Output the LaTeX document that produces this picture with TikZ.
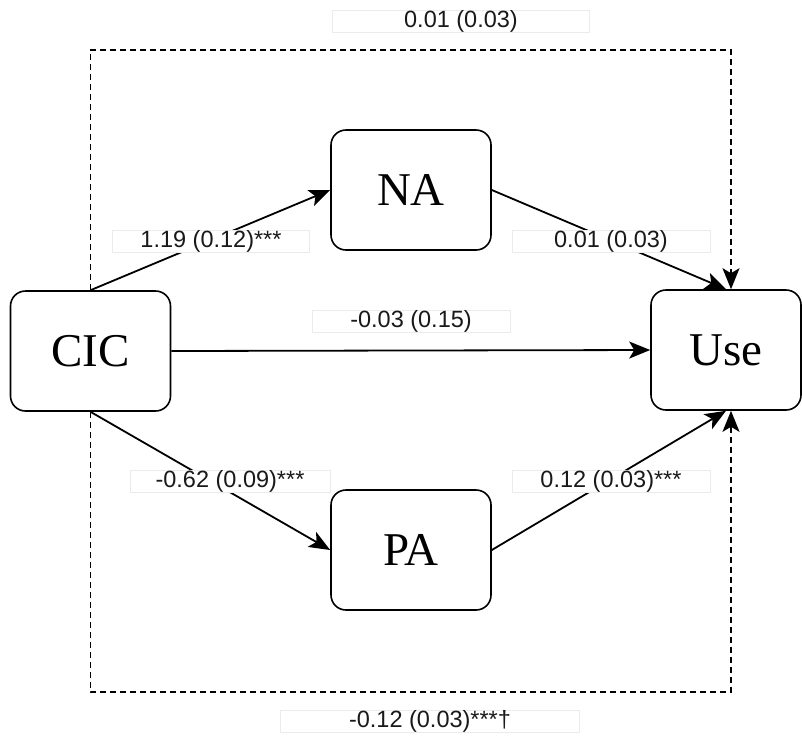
\documentclass[tikz,border=0pt]{standalone}
\usepackage{fontspec}
\setmainfont{Liberation Serif}
\newfontfamily\lblfont{Liberation Sans}
\usetikzlibrary{arrows.meta}
\begin{document}
\begin{tikzpicture}[x=1pt,y=-1pt,
  varbox/.style={draw, line width=1.6pt, rounded corners=15pt, fill=white,
    minimum width=160pt, minimum height=120pt, inner sep=0pt,
    font=\fontsize{47}{47}\selectfont},
  lbl/.style={draw=black!8, line width=0.6pt, fill=white, inner sep=0pt,
    minimum height=19pt, text=black!90, font=\lblfont\fontsize{23.5}{23.5}\selectfont},
  arr/.style={line width=1.8pt, -{Stealth[length=21pt,width=17pt,inset=5pt]}},
  darr/.style={line width=1.5pt, dash pattern=on 6pt off 4pt, -{Stealth[length=21pt,width=17pt,inset=5pt]}}
]
\useasboundingbox (0,0) rectangle (802,740);
\node[varbox] (CIC) at (90.5,351) {CIC};
\node[varbox] (NA) at (411,190) {NA};
\node[varbox] (PA) at (411,550) {PA};
\node[varbox, minimum width=150pt] (Use) at (726,350) {Use};
\coordinate (tr) at (731,50);
\coordinate (br) at (731,692);
% dashed total-effect paths
\draw[darr] (CIC.north) |- (tr) -- (Use.north -| tr);
\draw[darr] (CIC.south) |- (br) -- (Use.south -| br);
% solid paths
\draw[arr] (CIC.north) -- (NA.west);
\draw[arr] (NA.east) -- (Use.north);
\draw[arr] (CIC.east) -- (Use.west);
\draw[arr] (CIC.south) -- (PA.west);
\draw[arr] (PA.east) -- (Use.south);
% labels
\node[lbl, minimum width=257pt] (l1) at (461,21) {0.01 (0.03)};
\node[lbl, minimum width=197pt] (l2) at (211,241) {1.19 (0.12)***};
\node[lbl, minimum width=198pt] (l3) at (611,241) {0.01 (0.03)};
\node[lbl, minimum width=198pt] (l4) at (411,321) {-0.03 (0.15)};
\node[lbl, minimum width=200pt] (l5) at (230,481) {-0.62 (0.09)***};
\node[lbl, minimum width=198pt] (l6) at (611,481) {0.12 (0.03)***};
\node[lbl, minimum width=299pt] (l7) at (430,721) {-0.12 (0.03)***†};
\end{tikzpicture}
\end{document}
